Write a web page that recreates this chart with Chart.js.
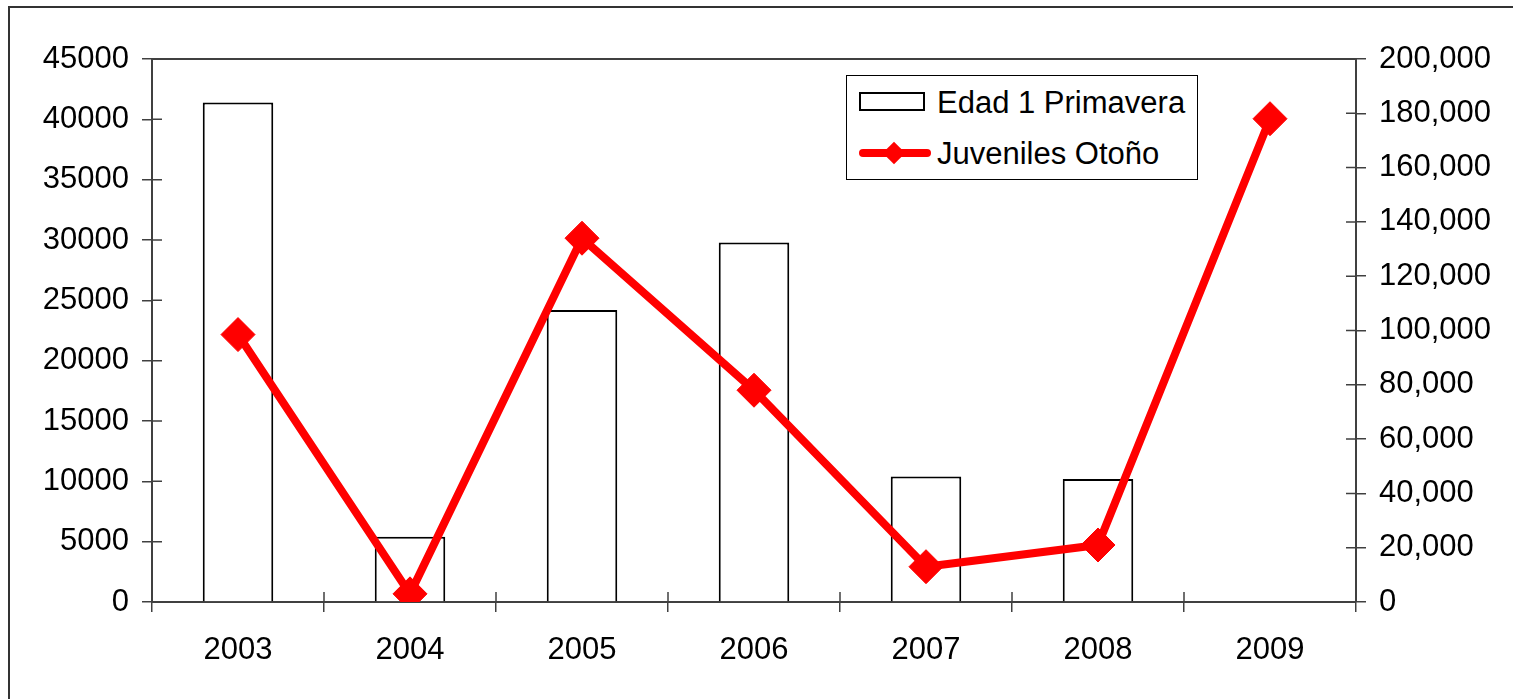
<!DOCTYPE html>
<html>
<head>
<meta charset="utf-8">
<script src="https://cdn.jsdelivr.net/npm/chart.js@4"></script>
<style>
  body { margin: 0; background: #fff; width: 1513px; height: 699px; overflow: hidden; position: relative; font-family: "Liberation Sans", Arial, sans-serif; }
  #frame { position: absolute; left: 8px; top: 6px; width: 1540px; height: 730px; border: 2px solid #333; }
  #frame canvas { display: block; }
  #legend { position: absolute; left: 846px; top: 75px; width: 350px; height: 103px; border: 1.5px solid #000; background: #fff; }
  .lg-text { position: absolute; left: 90px; font-size: 31px; line-height: 31px; color: #000; white-space: nowrap; }
  .lg-box { position: absolute; left: 12px; top: 16px; width: 66px; height: 19px; border: 2px solid #000; box-sizing: border-box; }
  .lg-line { position: absolute; left: 12px; top: 73px; width: 72px; height: 8px; background: #f00; border-radius: 4px; }
  .lg-dia { position: absolute; left: 39px; top: 69px; width: 16px; height: 16px; background: #f00; transform: rotate(45deg); }
</style>
</head>
<body>
<div id="frame"><canvas id="chart" width="1500" height="690"></canvas></div>
<div id="legend">
  <div class="lg-box"></div>
  <div class="lg-text" style="top:11px">Edad 1 Primavera</div>
  <div class="lg-line"></div>
  <div class="lg-dia"></div>
  <div class="lg-text" style="top:62px">Juveniles Otoño</div>
</div>
<script>
document.addEventListener("DOMContentLoaded", function (event) {
    main();
});

var years = ['2003', '2004', '2005', '2006', '2007', '2008', '2009'];
var edad1Primavera = [41400, 5400, 24200, 29800, 10400, 10200, null];
var juvenilesOtono = [98500, 3000, 134000, 78000, 13000, 21000, 178000];

function main() {
    var axisColor = '#404040';
    var font = { family: '"Liberation Sans", Arial, sans-serif', size: 31 };

    // ticks in Excel cross the axis line, Chart.js only draws the outer half
    var innerTicks = {
        id: 'innerTicks',
        afterDraw: function (chart) {
            var ctx = chart.ctx;
            var a = chart.chartArea;
            ctx.save();
            ctx.strokeStyle = axisColor;
            ctx.lineWidth = 1.5;
            ctx.beginPath();
            chart.scales.y.ticks.forEach(function (t, i) {
                var y = chart.scales.y.getPixelForTick(i);
                ctx.moveTo(a.left, y); ctx.lineTo(a.left + 10, y);
            });
            chart.scales.y1.ticks.forEach(function (t, i) {
                var y = chart.scales.y1.getPixelForTick(i);
                ctx.moveTo(a.right, y); ctx.lineTo(a.right - 10, y);
            });
            var n = years.length;
            for (var k = 0; k <= n; k++) {
                var x = a.left + k * (a.right - a.left) / n;
                ctx.moveTo(x, a.bottom); ctx.lineTo(x, a.bottom - 10);
            }
            ctx.stroke();
            // top edge of plot area
            ctx.lineWidth = 2;
            ctx.beginPath();
            ctx.moveTo(a.left, a.top); ctx.lineTo(a.right, a.top);
            ctx.stroke();
            ctx.restore();
        }
    };

    var ctx = document.getElementById('chart');
    new Chart(ctx, {
        data: {
            labels: years,
            datasets: [{
                type: 'line',
                label: 'Juveniles Otoño',
                data: juvenilesOtono,
                yAxisID: 'y1',
                borderColor: '#ff0000',
                backgroundColor: '#ff0000',
                borderWidth: 8,
                pointStyle: 'rectRot',
                pointRadius: 17,
                pointBorderWidth: 1,
                pointBackgroundColor: '#ff0000',
                pointBorderColor: '#ff0000',
                tension: 0,
                order: 0
            },
            {
                type: 'bar',
                label: 'Edad 1 Primavera',
                data: edad1Primavera,
                yAxisID: 'y',
                backgroundColor: '#ffffff',
                borderColor: '#000000',
                borderWidth: 2,
                categoryPercentage: 1,
                barPercentage: 0.41,
                order: 1
            }]
        },
        options: {
            responsive: false,
            animation: false,
            layout: { padding: { top: 51, left: 0, right: 0, bottom: 0 } },
            plugins: {
                legend: { display: false },
                tooltip: { enabled: false }
            },
            scales: {
                x: {
                    offset: true,
                    grid: { offset: true, drawOnChartArea: false, tickLength: 10, color: axisColor, lineWidth: 1.5 },
                    border: { color: axisColor, width: 2 },
                    ticks: { font: font, color: '#000', padding: 20, maxRotation: 0 },
                    afterFit: function (s) { s.height = 96; }
                },
                y: {
                    position: 'left',
                    min: 0, max: 45000,
                    grid: { drawOnChartArea: false, tickLength: 10, color: axisColor, lineWidth: 1.5 },
                    border: { color: axisColor, width: 2 },
                    ticks: { stepSize: 5000, font: font, color: '#000', padding: 13,
                        callback: function (v) { return String(v); } },
                    afterFit: function (s) { s.width = 142; }
                },
                y1: {
                    position: 'right',
                    min: 0, max: 200000,
                    grid: { drawOnChartArea: false, tickLength: 10, color: axisColor, lineWidth: 1.5 },
                    border: { color: axisColor, width: 2 },
                    ticks: { stepSize: 20000, font: font, color: '#000', padding: 13,
                        callback: function (v) { return v.toLocaleString('en-US'); } },
                    afterFit: function (s) { s.width = 154; }
                }
            }
        },
        plugins: [innerTicks]
    });
}
</script>
</body>
</html>
